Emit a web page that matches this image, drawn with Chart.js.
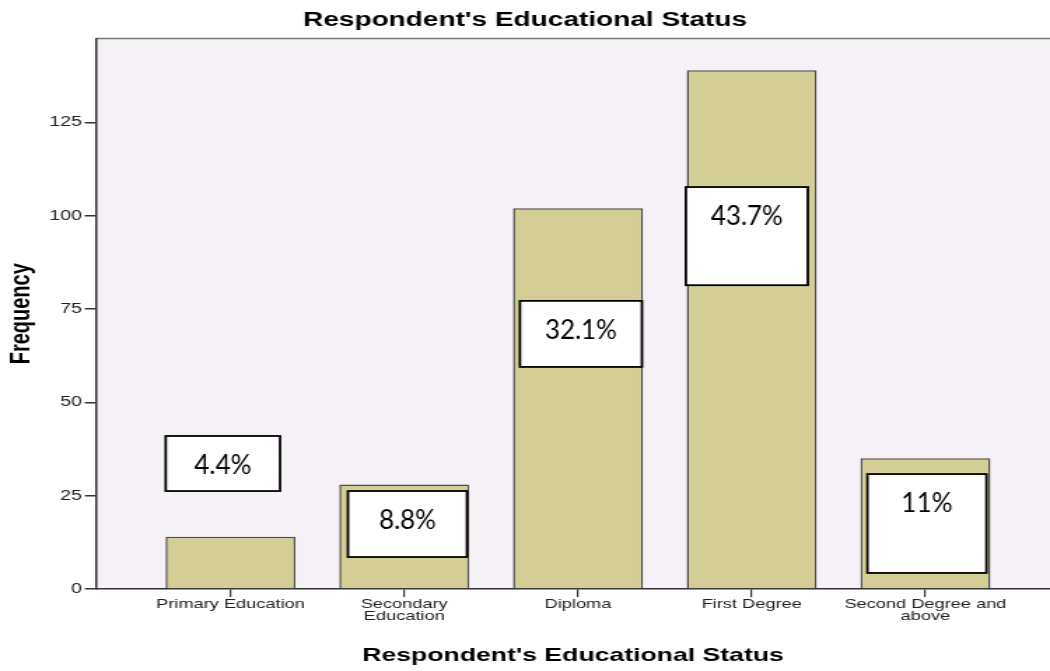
<!DOCTYPE html>
<html>
<head>
<meta charset="utf-8">
<title>Respondent's Educational Status</title>
<script src="https://cdn.jsdelivr.net/npm/chart.js@4.4.1/dist/chart.umd.min.js"></script>
<style>
    body { margin: 0; background: #ffffff; overflow: hidden; }
    #chart { display: block; transform-origin: 0 0; }
</style>
</head>
<body>
<canvas id="chart" width="750" height="671"></canvas>
<script>
const categories = ['Primary Education', 'Secondary Education', 'Diploma', 'First Degree', 'Second Degree and above'];
const tickLabels = [['Primary Education'], ['Secondary', 'Education'], ['Diploma'], ['First Degree'], ['Second Degree and', 'above']];
const frequency = [14, 28, 102, 139, 35];
const yTicks = [0, 25, 50, 75, 100, 125];

// text boxes with the percentages: [left, right] in category units around the bar, [top, bottom] in frequency
const labelBoxes = [
    [-0.373, 0.285, 41.0, 26.25],
    [-0.324, 0.361, 26.25, 8.57],
    [-0.334, 0.368, 77.2, 59.5],
    [-0.379, 0.323, 107.7, 81.4],
    [-0.334, 0.351, 30.8, 4.3]
];

// the graphic is drawn narrow and stretched sideways, like the exported SPSS chart
const STRETCH = 1.4;
document.getElementById('chart').style.transform = 'scaleX(' + STRETCH + ')';

const total = frequency.reduce((a, b) => a + b, 0);

function pctText(v) {
    var p = (v / total * 100).toFixed(1);
    if (p.endsWith('.0')) p = p.slice(0, -2);
    return p + '%';
}

// plot background + top frame line
const plotBg = {
    id: 'plotBg',
    beforeDraw: function (chart) {
        const a = chart.chartArea;
        const ctx = chart.ctx;
        ctx.save();
        ctx.fillStyle = '#f6f1f6';
        ctx.fillRect(a.left, a.top, a.right - a.left, a.bottom - a.top);
        ctx.strokeStyle = '#7a7a7a';
        ctx.lineWidth = 1.5;
        ctx.beginPath();
        ctx.moveTo(a.left, a.top);
        ctx.lineTo(a.right, a.top);
        ctx.stroke();
        ctx.restore();
    }
};

// white boxes with the share of each category
const pctBoxes = {
    id: 'pctBoxes',
    afterDatasetsDraw: function (chart) {
        const ctx = chart.ctx;
        const xs = chart.scales.x;
        const ys = chart.scales.y;
        ctx.save();
        frequency.forEach(function (v, i) {
            const b = labelBoxes[i];
            const x0 = xs.getPixelForValue(i + b[0]);
            const x1 = xs.getPixelForValue(i + b[1]);
            const y0 = ys.getPixelForValue(b[2]);
            const y1 = ys.getPixelForValue(b[3]);
            ctx.fillStyle = '#ffffff';
            ctx.fillRect(x0, y0, x1 - x0, y1 - y0);
            ctx.strokeStyle = '#000000';
            ctx.lineWidth = 1.8;
            ctx.strokeRect(x0, y0, x1 - x0, y1 - y0);

            // text is not stretched, so undo the sideways scale for it
            ctx.save();
            ctx.translate((x0 + x1) / 2, y0 + 30);
            ctx.scale(1 / STRETCH, 1);
            ctx.fillStyle = '#000000';
            ctx.font = '26px Lato';
            ctx.textAlign = 'center';
            ctx.textBaseline = 'middle';
            ctx.fillText(pctText(v), 0, 0);
            ctx.restore();
        });
        ctx.restore();
    }
};

const ctx = document.getElementById('chart');

new Chart(ctx, {
    type: 'bar',
    data: {
        labels: categories,
        datasets: [{
            label: 'Frequency',
            data: frequency.map((v, i) => ({ x: i, y: v })),
            backgroundColor: '#d4cd96',
            borderColor: '#4d4d48',
            borderWidth: 1.5,
            barPercentage: 0.748,
            categoryPercentage: 1.0
        }]
    },
    options: {
        responsive: false,
        animation: false,
        devicePixelRatio: 1,
        layout: { padding: 0 },
        plugins: {
            legend: { display: false },
            tooltip: { enabled: false },
            title: {
                display: true,
                text: "Respondent's Educational Status",
                color: '#000000',
                font: { family: 'Liberation Sans', size: 20, weight: 'bold', lineHeight: 1.2 },
                padding: { top: 8, bottom: 6.5 }
            }
        },
        scales: {
            x: {
                type: 'linear',
                offset: false,
                min: -0.774,
                max: 4.717,
                afterBuildTicks: function (scale) {
                    scale.ticks = categories.map((c, i) => ({ value: i }));
                },
                afterFit: function (scale) {
                    scale.height = 82;
                },
                ticks: {
                    autoSkip: false,
                    maxRotation: 0,
                    padding: 2,
                    color: '#222222',
                    font: { family: 'Liberation Sans', size: 13, lineHeight: 0.9 },
                    callback: function (value) {
                        return tickLabels[value];
                    }
                },
                grid: { offset: false, drawOnChartArea: false, drawTicks: true, tickLength: 8, color: '#333333', lineWidth: 1.2 },
                border: { display: true, color: '#333333', width: 1.5 },
                title: {
                    display: true,
                    text: "Respondent's Educational Status",
                    color: '#000000',
                    font: { family: 'Liberation Sans', size: 19, weight: 'bold', lineHeight: 1.2 },
                    padding: { top: 0, bottom: 4 }
                }
            },
            y: {
                min: 0,
                max: 147.5,
                afterBuildTicks: function (scale) {
                    scale.ticks = yTicks.map(v => ({ value: v }));
                },
                afterFit: function (scale) {
                    scale.width = 68.6;
                },
                ticks: {
                    padding: 2,
                    color: '#222222',
                    font: { family: 'Liberation Sans', size: 14 }
                },
                grid: { drawOnChartArea: false, drawTicks: true, tickLength: 8, color: '#333333', lineWidth: 1.5 },
                border: { display: true, color: '#333333', width: 1.5 },
                title: {
                    display: true,
                    text: 'Frequency',
                    color: '#000000',
                    font: { family: 'Liberation Sans', size: 20, weight: 'bold', lineHeight: 1.2 },
                    padding: { top: 3 }
                }
            }
        }
    },
    plugins: [plotBg, pctBoxes]
});
</script>
</body>
</html>
